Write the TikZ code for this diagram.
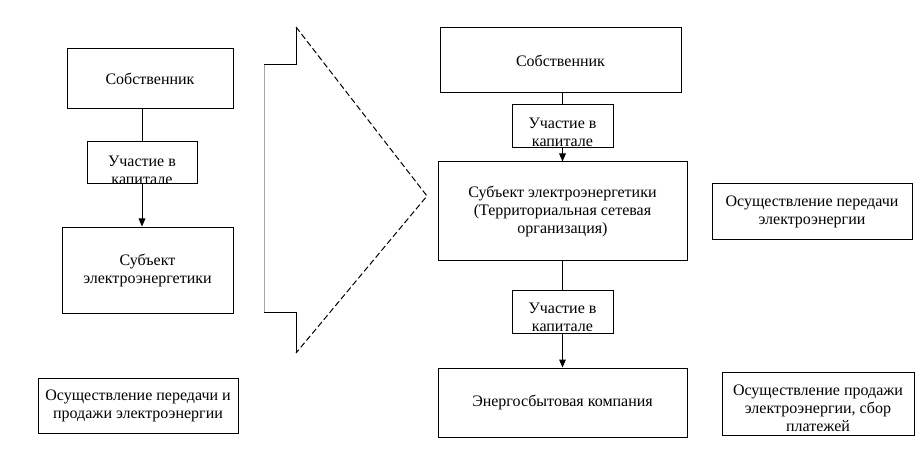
\documentclass[tikz,border=0pt]{standalone}
\usepackage{fontspec}
\setmainfont{Liberation Serif}
\usetikzlibrary{arrows.meta}
\begin{document}
\begin{tikzpicture}[x=0.75pt,y=-0.75pt,
  line width=0.75pt,
  font=\fontsize{12}{13.5}\selectfont,
  box/.style={draw=black, fill=white, inner sep=0pt, align=center},
  txt/.style={inner sep=0pt, align=center, font=\fontsize{12}{13.5}\selectfont},
  arr/.style={-{Triangle[length=6pt,width=5pt]}},
  dashline/.style={dash pattern=on 4.5pt off 2.25pt}
]
\useasboundingbox (0,0) rectangle (916,463);

% ---- left column ----
\node[box, minimum width=166*0.75pt, minimum height=60*0.75pt] (L1) at (150,79) {\raisebox{-2pt}{Собственник}};
\node[box, minimum width=110*0.75pt, minimum height=42*0.75pt,
  path picture={\node[txt] at ([yshift=-5.5pt]path picture bounding box.center) {Участие в\\капитале};}] (LP) at (142,163) {};
\node[box, minimum width=171*0.75pt, minimum height=86*0.75pt] (L2) at (147.5,270) {Субъект\\электроэнергетики};
\node[box, minimum width=200*0.75pt, minimum height=55*0.75pt] (L3) at (138,405.5) {Осуществление передачи и\\продажи электроэнергии};

\draw (LP.north) -- (LP.north |- L1.south);
\draw[arr] (LP.south) -- (LP.south |- L2.north);

% ---- big arrow shape ----
\coordinate (A1) at (264,65);
\coordinate (A2) at (296,65);
\coordinate (A3) at (296,27);
\coordinate (A4) at (427,196);
\coordinate (A5) at (296,353);
\coordinate (A6) at (296,312);
\coordinate (A7) at (264,312);
\draw (A1) -- (A2) -- (A3);
\draw[dashline] (A3) -- (A4) -- (A5);
\draw (A5) -- (A6) -- (A7);
\draw[gray!70] (A7) -- (A1);

% ---- right column ----
\node[box, minimum width=241*0.75pt, minimum height=65*0.75pt] (R1) at (560.5,60.5) {Собственник};
\node[box, minimum width=101*0.75pt, minimum height=43*0.75pt,
  path picture={\node[txt] at ([yshift=-4.5pt]path picture bounding box.center) {Участие в\\капитале};}] (RP1) at (562.5,126.5) {};
\node[box, minimum width=249*0.75pt, minimum height=98*0.75pt] (R2) at (562.5,211) {Субъект электроэнергетики\\(Территориальная сетевая\\организация)};
\node[box, minimum width=101*0.75pt, minimum height=43*0.75pt,
  path picture={\node[txt] at ([yshift=-4.5pt]path picture bounding box.center) {Участие в\\капитале};}] (RP2) at (562.5,311.5) {};
\node[box, minimum width=249*0.75pt, minimum height=69*0.75pt] (R3) at (562.5,402.5) {Энергосбытовая компания};

\draw (RP1.north) -- (RP1.north |- R1.south);
\draw[arr] (RP1.south) -- (RP1.south |- R2.north);
\draw (RP2.north) -- (RP2.north |- R2.south);
\draw[arr] (RP2.south) -- (RP2.south |- R3.north);

% ---- side notes ----
\node[box, minimum width=200*0.75pt, minimum height=55*0.75pt] (S1) at (812,211.5) {Осуществление передачи\\электроэнергии};
\node[box, minimum width=192*0.75pt, minimum height=63*0.75pt,
  path picture={\node[txt] at ([yshift=-3.5pt]path picture bounding box.center) {Осуществление продажи\\электроэнергии, сбор\\платежей};}] (S2) at (818,403.5) {};
\end{tikzpicture}
\end{document}
